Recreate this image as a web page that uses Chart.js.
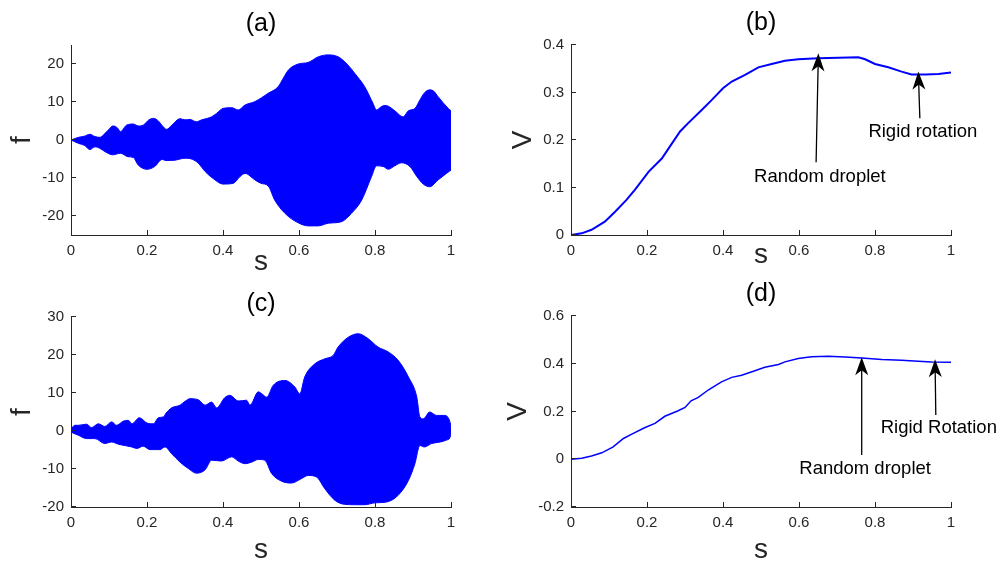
<!DOCTYPE html>
<html>
<head>
<meta charset="utf-8">
<title>f and V against s</title>
<script src="https://cdn.jsdelivr.net/npm/chart.js@4.4.1/dist/chart.umd.min.js"></script>
<style>
    html, body { margin: 0; padding: 0; background: #fff; }
    #page { position: relative; width: 1004px; height: 568px; overflow: hidden; }
    #page canvas { position: absolute; display: block; }
</style>
</head>
<body>
<div id="page">
    <canvas id="chartA" width="502" height="280" style="left:0;top:0"></canvas>
    <canvas id="chartB" width="502" height="280" style="left:502px;top:0"></canvas>
    <canvas id="chartC" width="502" height="288" style="left:0;top:280px"></canvas>
    <canvas id="chartD" width="502" height="288" style="left:502px;top:280px"></canvas>
</div>
<script>
// Данные

const sTicks = [0, 0.2, 0.4, 0.6, 0.8, 1];

// (a) огибающая f(s): верхний и нижний край
const sAUp = [0, 0.02, 0.035, 0.05, 0.063, 0.076, 0.085, 0.098, 0.11, 0.122, 0.13, 0.146, 0.164, 0.177, 0.19, 0.205, 0.217, 0.23, 0.239, 0.252, 0.265, 0.287, 0.3, 0.313, 0.33, 0.344, 0.37, 0.383, 0.4, 0.423, 0.44, 0.458, 0.484, 0.519, 0.545, 0.56, 0.572, 0.598, 0.624, 0.651, 0.677, 0.703, 0.729, 0.747, 0.773, 0.795, 0.804, 0.817, 0.826, 0.835, 0.852, 0.874, 0.888, 0.905, 0.918, 0.93, 0.944, 0.955, 0.966, 0.993, 1];
const fAUp = [0, 0.7, 1.0, 1.5, 0.9, 0.7, 1.3, 2.6, 3.7, 3.2, 2.2, 3.9, 4.2, 3.7, 3.9, 5.3, 5.7, 5.0, 3.9, 2.8, 3.9, 5.6, 5.3, 5.4, 4.8, 5.3, 6.1, 7.0, 8.3, 8.5, 7.9, 9.2, 10.1, 12.3, 14.0, 16.5, 18.4, 20.0, 20.4, 21.9, 22.4, 21.9, 19.7, 17.5, 14.0, 9.6, 7.9, 8.8, 9.1, 8.9, 7.7, 6.1, 7.7, 8.3, 10.5, 12.4, 13.2, 12.8, 11.4, 8.3, 7.7];
const sALow = [0, 0.02, 0.035, 0.05, 0.063, 0.076, 0.09, 0.11, 0.13, 0.15, 0.164, 0.177, 0.2, 0.22, 0.24, 0.25, 0.274, 0.3, 0.32, 0.335, 0.353, 0.379, 0.4, 0.427, 0.445, 0.458, 0.484, 0.5, 0.519, 0.536, 0.563, 0.598, 0.624, 0.651, 0.677, 0.712, 0.738, 0.765, 0.791, 0.804, 0.822, 0.835, 0.852, 0.87, 0.892, 0.91, 0.927, 0.944, 0.966, 0.988, 1];
const fALow = [0, -0.9, -1.4, -2.5, -1.8, -2.2, -3.1, -3.9, -3.5, -4.4, -4.6, -6.6, -7.7, -7.0, -5.1, -5.4, -5.3, -4.8, -5.1, -6.1, -8.3, -10.5, -11.6, -11.4, -9.6, -8.8, -10.5, -11.4, -12.1, -15.8, -19.3, -21.8, -22.6, -22.6, -21.9, -21.5, -19.3, -15.8, -9.6, -6.8, -7.0, -7.7, -6.8, -6.0, -7.0, -9.6, -11.6, -12.3, -10.5, -8.8, -7.9];
const fTicksA = [-20, -10, 0, 10, 20];

// (b) V(s)
const sB = [0, 0.028, 0.054, 0.089, 0.116, 0.146, 0.168, 0.204, 0.239, 0.26, 0.287, 0.309, 0.344, 0.37, 0.4, 0.423, 0.458, 0.493, 0.528, 0.563, 0.598, 0.651, 0.704, 0.756, 0.774, 0.8, 0.835, 0.87, 0.896, 0.932, 0.967, 1];
const vB = [0, 0.0035, 0.011, 0.028, 0.049, 0.074, 0.095, 0.133, 0.161, 0.186, 0.218, 0.236, 0.263, 0.284, 0.309, 0.323, 0.337, 0.353, 0.36, 0.367, 0.37, 0.372, 0.373, 0.374, 0.37, 0.36, 0.353, 0.344, 0.338, 0.338, 0.339, 0.342];
const vTicksB = [0, 0.1, 0.2, 0.3, 0.4];

// (c) огибающая f(s)
const sCUp = [0, 0.01, 0.019, 0.041, 0.054, 0.072, 0.089, 0.107, 0.12, 0.138, 0.151, 0.16, 0.18, 0.2, 0.217, 0.23, 0.243, 0.25, 0.265, 0.287, 0.3, 0.313, 0.335, 0.353, 0.37, 0.383, 0.405, 0.418, 0.44, 0.462, 0.471, 0.493, 0.502, 0.515, 0.532, 0.563, 0.589, 0.602, 0.615, 0.642, 0.668, 0.69, 0.703, 0.73, 0.756, 0.782, 0.808, 0.835, 0.861, 0.888, 0.91, 0.918, 0.927, 0.944, 0.962, 0.984, 0.997, 1];
const fCUp = [0.5, 1.5, 1.5, 1.8, 0.9, 1.9, 1.2, 2.4, 1.5, 2.6, 2.8, 1.9, 3.5, 2.1, 1.9, 3.5, 3.7, 4.7, 6.1, 6.8, 7.8, 8.5, 8.2, 6.8, 7.6, 6.1, 8.8, 9.4, 7.9, 8.1, 6.8, 10.3, 9.8, 8.9, 12.0, 13.3, 11.6, 9.8, 14.2, 17.7, 19.0, 19.9, 22.1, 24.7, 25.6, 24.3, 22.1, 20.8, 18.6, 14.2, 8.9, 3.7, 3.2, 5.0, 4.1, 4.1, 2.5, 1.0];
const sCLow = [0, 0.019, 0.041, 0.063, 0.089, 0.107, 0.125, 0.16, 0.173, 0.19, 0.208, 0.234, 0.247, 0.265, 0.287, 0.309, 0.33, 0.353, 0.37, 0.396, 0.423, 0.44, 0.458, 0.475, 0.493, 0.51, 0.528, 0.554, 0.58, 0.607, 0.624, 0.646, 0.668, 0.694, 0.72, 0.747, 0.773, 0.8, 0.83, 0.861, 0.888, 0.905, 0.918, 0.93, 0.949, 0.971, 0.988, 0.997, 1];
const fCLow = [-0.3, -1.1, -2.0, -2.0, -3.3, -2.9, -3.5, -4.2, -4.6, -4.0, -4.9, -4.9, -4.2, -6.0, -8.2, -9.9, -11.1, -10.2, -7.7, -7.9, -6.8, -7.9, -8.6, -8.2, -7.5, -7.7, -11.2, -13.2, -13.7, -12.5, -11.7, -12.1, -15.2, -18.2, -19.3, -19.4, -19.4, -18.9, -18.7, -16.9, -13.0, -8.6, -3.8, -4.2, -3.3, -2.9, -2.4, -1.8, -0.8];
const fTicksC = [-20, -10, 0, 10, 20, 30];

// (d) V(s)
const sD = [0, 0.028, 0.054, 0.081, 0.111, 0.138, 0.16, 0.195, 0.221, 0.247, 0.282, 0.3, 0.316, 0.335, 0.361, 0.396, 0.423, 0.449, 0.484, 0.51, 0.546, 0.563, 0.598, 0.633, 0.677, 0.721, 0.765, 0.818, 0.87, 0.914, 0.949, 1];
const vD = [0, 0.004, 0.014, 0.027, 0.052, 0.087, 0.105, 0.133, 0.15, 0.18, 0.203, 0.217, 0.245, 0.259, 0.29, 0.324, 0.343, 0.352, 0.371, 0.385, 0.397, 0.408, 0.422, 0.429, 0.431, 0.428, 0.424, 0.418, 0.415, 0.41, 0.407, 0.406];
const vTicksD = [-0.2, 0, 0.2, 0.4, 0.6];

// Подписи со стрелками (в координатах осей)
const notesB = [
    { text: 'Random droplet', tip: [0.651, 0.3825], tail: [0.645, 0.153], at: [0.655, 0.112] },
    { text: 'Rigid rotation', tip: [0.914, 0.344], tail: [0.918, 0.246], at: [0.926, 0.207] },
];
const notesD = [
    { text: 'Random droplet', tip: [0.765, 0.427], tail: [0.765, 0.018], at: [0.774, -0.062] },
    { text: 'Rigid Rotation', tip: [0.958, 0.419], tail: [0.96, 0.185], at: [0.968, 0.111] },
];

/////

const FONT = "'Liberation Sans', Arial, Helvetica, sans-serif";
const AXIS = '#262626';
const BLUE = '#0000ff';

function pts(xs, ys) {
    return xs.map((x, i) => ({ x: x, y: ys[i] }));
}

// Засечки внутрь области графика
const innerTicks = {
    id: 'innerTicks',
    afterDatasetsDraw(chart) {
        const { ctx, chartArea } = chart;
        const xs = chart.scales.x;
        const ys = chart.scales.y;
        ctx.save();
        ctx.strokeStyle = AXIS;
        ctx.lineWidth = 1;
        ctx.beginPath();
        xs.ticks.forEach(t => {
            const px = Math.round(xs.getPixelForValue(t.value)) + 0.5;
            ctx.moveTo(px, chartArea.bottom);
            ctx.lineTo(px, chartArea.bottom - 5);
        });
        ys.ticks.forEach(t => {
            const py = Math.round(ys.getPixelForValue(t.value)) - 0.5;
            ctx.moveTo(chartArea.left, py);
            ctx.lineTo(chartArea.left + 5, py);
        });
        ctx.stroke();
        ctx.restore();
    },
};

// Стрелки с подписями
const arrowNotes = {
    id: 'arrowNotes',
    afterDraw(chart, args, opts) {
        const { ctx } = chart;
        const xs = chart.scales.x;
        const ys = chart.scales.y;
        (opts.items || []).forEach(n => {
            const tx = xs.getPixelForValue(n.tip[0]);
            const ty = ys.getPixelForValue(n.tip[1]);
            const bx = xs.getPixelForValue(n.tail[0]);
            const by = ys.getPixelForValue(n.tail[1]);
            const len = Math.hypot(tx - bx, ty - by);
            const ux = (tx - bx) / len;
            const uy = (ty - by) / len;
            const nx = -uy;
            const ny = ux;

            ctx.save();
            ctx.strokeStyle = '#000';
            ctx.fillStyle = '#000';
            ctx.lineWidth = 1.3;
            ctx.beginPath();
            ctx.moveTo(bx, by);
            ctx.lineTo(tx - ux * 12, ty - uy * 12);
            ctx.stroke();

            ctx.beginPath();
            ctx.moveTo(tx, ty);
            ctx.lineTo(tx - ux * 18 + nx * 6.5, ty - uy * 18 + ny * 6.5);
            ctx.lineTo(tx - ux * 13, ty - uy * 13);
            ctx.lineTo(tx - ux * 18 - nx * 6.5, ty - uy * 18 - ny * 6.5);
            ctx.closePath();
            ctx.fill();

            ctx.font = '18.5px ' + FONT;
            ctx.textAlign = 'center';
            ctx.textBaseline = 'alphabetic';
            ctx.fillText(n.text, xs.getPixelForValue(n.at[0]), ys.getPixelForValue(n.at[1]));
            ctx.restore();
        });
    },
};

function makePanel(id, o) {
    return new Chart(document.getElementById(id), {
        type: 'line',
        data: { datasets: o.datasets },
        options: {
            responsive: false,
            animation: false,
            events: [],
            layout: { padding: { left: 0, top: 0, right: o.padRight, bottom: 0 } },
            plugins: {
                legend: { display: false },
                tooltip: { enabled: false },
                title: {
                    display: true,
                    text: o.title,
                    color: '#000',
                    fullSize: false,
                    font: { family: FONT, size: 25, weight: 'normal', lineHeight: 1 },
                    padding: o.titlePad,
                },
                arrowNotes: { items: o.notes || [] },
            },
            scales: {
                x: {
                    type: 'linear',
                    min: 0,
                    max: 1,
                    afterBuildTicks: s => { s.ticks = sTicks.map(v => ({ value: v })); },
                    afterFit: s => { s.height = o.xHeight; },
                    grid: { display: false, drawTicks: false },
                    border: { display: true, color: AXIS, width: 1 },
                    ticks: {
                        color: AXIS,
                        autoSkip: false,
                        maxRotation: 0,
                        padding: 7,
                        font: { family: FONT, size: 15 },
                        callback: v => String(v),
                    },
                    title: {
                        display: true,
                        text: 's',
                        color: AXIS,
                        font: { family: FONT, size: 28, lineHeight: 1 },
                        padding: { top: 0, bottom: o.xTitlePad },
                    },
                },
                y: {
                    type: 'linear',
                    min: o.yMin,
                    max: o.yMax,
                    afterBuildTicks: s => { s.ticks = o.yTicks.map(v => ({ value: v })); },
                    afterFit: s => { s.width = o.yWidth; },
                    grid: { display: false, drawTicks: false },
                    border: { display: true, color: AXIS, width: 1 },
                    ticks: {
                        color: AXIS,
                        autoSkip: false,
                        padding: 7,
                        font: { family: FONT, size: 15 },
                        callback: v => String(v),
                    },
                    title: {
                        display: true,
                        text: o.yLabel,
                        color: AXIS,
                        font: { family: FONT, size: 28, lineHeight: 1 },
                        padding: { top: o.yTitlePad, bottom: 0 },
                    },
                },
            },
        },
        plugins: [innerTicks, arrowNotes],
    });
}

function band(up, low) {
    const common = {
        borderColor: BLUE,
        backgroundColor: BLUE,
        borderWidth: 1,
        pointRadius: 0,
        cubicInterpolationMode: 'monotone',
        fill: 'origin',
    };
    return [
        Object.assign({ label: 'f+', data: up }, common),
        Object.assign({ label: 'f-', data: low }, common),
    ];
}

function curve(data, width) {
    return [{
        label: 'V',
        data: data,
        borderColor: BLUE,
        borderWidth: width,
        pointRadius: 0,
        fill: false,
        tension: 0,
    }];
}

// Панель (a)
makePanel('chartA', {
    title: '(a)',
    titlePad: { top: 12, bottom: 8 },
    padRight: 51,
    xHeight: 45,
    xTitlePad: 4,
    yWidth: 71,
    yMin: -25,
    yMax: 25,
    yTicks: fTicksA,
    yLabel: 'f',
    yTitlePad: 8.5,
    datasets: band(pts(sAUp, fAUp), pts(sALow, fALow)),
});

// Панель (b)
makePanel('chartB', {
    title: '(b)',
    titlePad: { top: 10.5, bottom: 9.5 },
    padRight: 53,
    xHeight: 45,
    xTitlePad: 10.7,
    yWidth: 69,
    yMin: 0,
    yMax: 0.4,
    yTicks: vTicksB,
    yLabel: 'V',
    yTitlePad: 7,
    notes: notesB,
    datasets: curve(pts(sB, vB), 2),
});

// Панель (c)
makePanel('chartC', {
    title: '(c)',
    titlePad: { top: 11.5, bottom: 0.5 },
    padRight: 51,
    xHeight: 61,
    xTitlePad: 3.7,
    yWidth: 71,
    yMin: -20,
    yMax: 30,
    yTicks: fTicksC,
    yLabel: 'f',
    yTitlePad: 8.5,
    datasets: band(pts(sCUp, fCUp), pts(sCLow, fCLow)),
});

// Панель (d)
makePanel('chartD', {
    title: '(d)',
    titlePad: { top: 1.5, bottom: 9.5 },
    padRight: 53,
    xHeight: 61,
    xTitlePad: 3.7,
    yWidth: 69,
    yMin: -0.2,
    yMax: 0.6,
    yTicks: vTicksD,
    yLabel: 'V',
    yTitlePad: 1.8,
    notes: notesD,
    datasets: curve(pts(sD, vD), 1.5),
});
</script>
</body>
</html>
